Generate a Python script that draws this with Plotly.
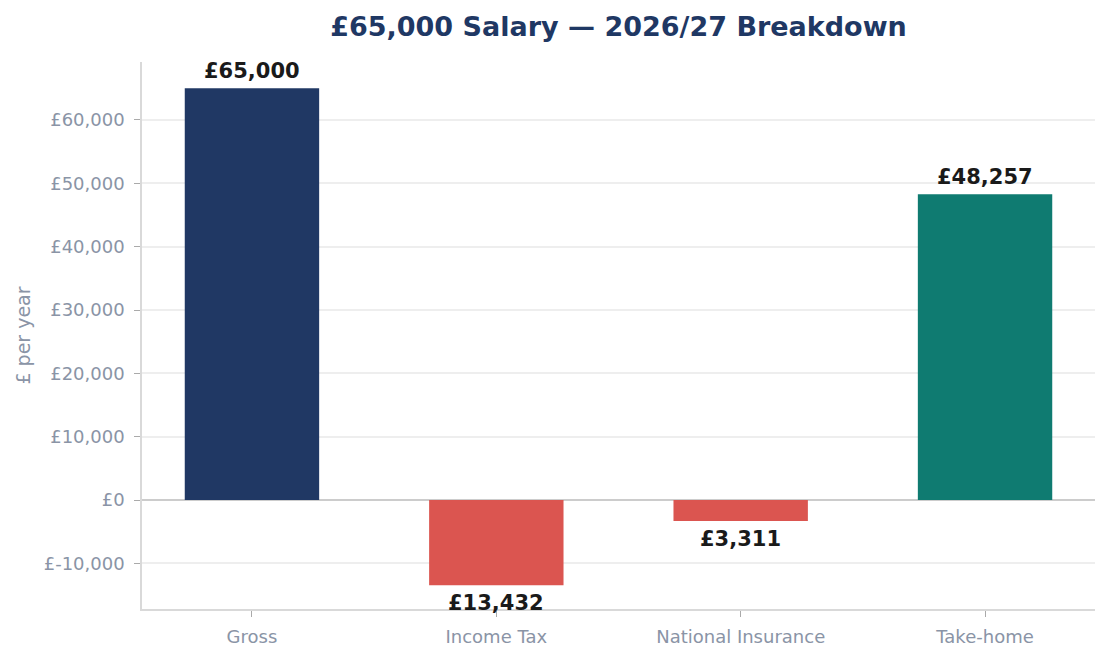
import plotly.graph_objects as go

# 2026/27 breakdown of a £65,000 salary
categories = ["Gross", "Income Tax", "National Insurance", "Take-home"]
amounts = [65000, -13432, -3311, 48257]
bar_colors = ["#203864", "#db5550", "#db5550", "#0f7b71"]

y_ticks = [-10000, 0, 10000, 20000, 30000, 40000, 50000, 60000]
y_tick_text = ["£-10,000", "£0", "£10,000", "£20,000", "£30,000",
               "£40,000", "£50,000", "£60,000"]

FONT = "DejaVu Sans"
GREY = "#8a94a6"

fig = go.Figure()
fig.add_trace(go.Bar(x=categories, y=amounts, marker_color=bar_colors,
                     marker_line_width=0, width=0.55, hoverinfo="skip"))

# value labels: above positive bars, below negative ones
for cat, val in zip(categories, amounts):
    fig.add_annotation(x=cat, y=val, text=f"<b>£{abs(val):,}</b>",
                       showarrow=False,
                       yanchor="bottom" if val > 0 else "top",
                       yshift=3 if val > 0 else -4,
                       font=dict(family=FONT, size=21, color="#1a1a1a"))

# page body adds an 8px margin, so the figure is 8px smaller each way
fig.update_layout(
    width=1102, height=651,
    margin=dict(l=134, r=15, t=54, b=50),
    paper_bgcolor="white", plot_bgcolor="white",
    showlegend=False,
    font=dict(family=FONT, color=GREY),
    title=dict(text="<b>£65,000 Salary — 2026/27 Breakdown</b>",
               xref="paper", x=0.5, xanchor="center",
               y=0.9708, yanchor="middle",
               font=dict(family=FONT, size=27, color="#1f3864")),
)
fig.update_xaxes(range=[-0.45, 3.45], showline=True, linecolor="#d9d9d9",
                 linewidth=1.5, ticks="outside", ticklen=6, tickcolor="#aaaaaa",
                 tickfont=dict(size=18, color=GREY), showgrid=False,
                 ticklabelstandoff=5)
fig.update_yaxes(range=[-17200, 69150], tickvals=y_ticks, ticktext=y_tick_text,
                 showline=True, linecolor="#d9d9d9", linewidth=1.5,
                 ticks="outside", ticklen=6, tickcolor="#aaaaaa",
                 tickfont=dict(size=18, color=GREY), ticklabelstandoff=6,
                 showgrid=True, gridcolor="#eeeeee", gridwidth=1.5,
                 zeroline=True, zerolinecolor="#cccccc", zerolinewidth=1.5,
                 title=dict(text="£ per year", font=dict(size=19, color=GREY),
                            standoff=8))

fig.write_html("out.html")
